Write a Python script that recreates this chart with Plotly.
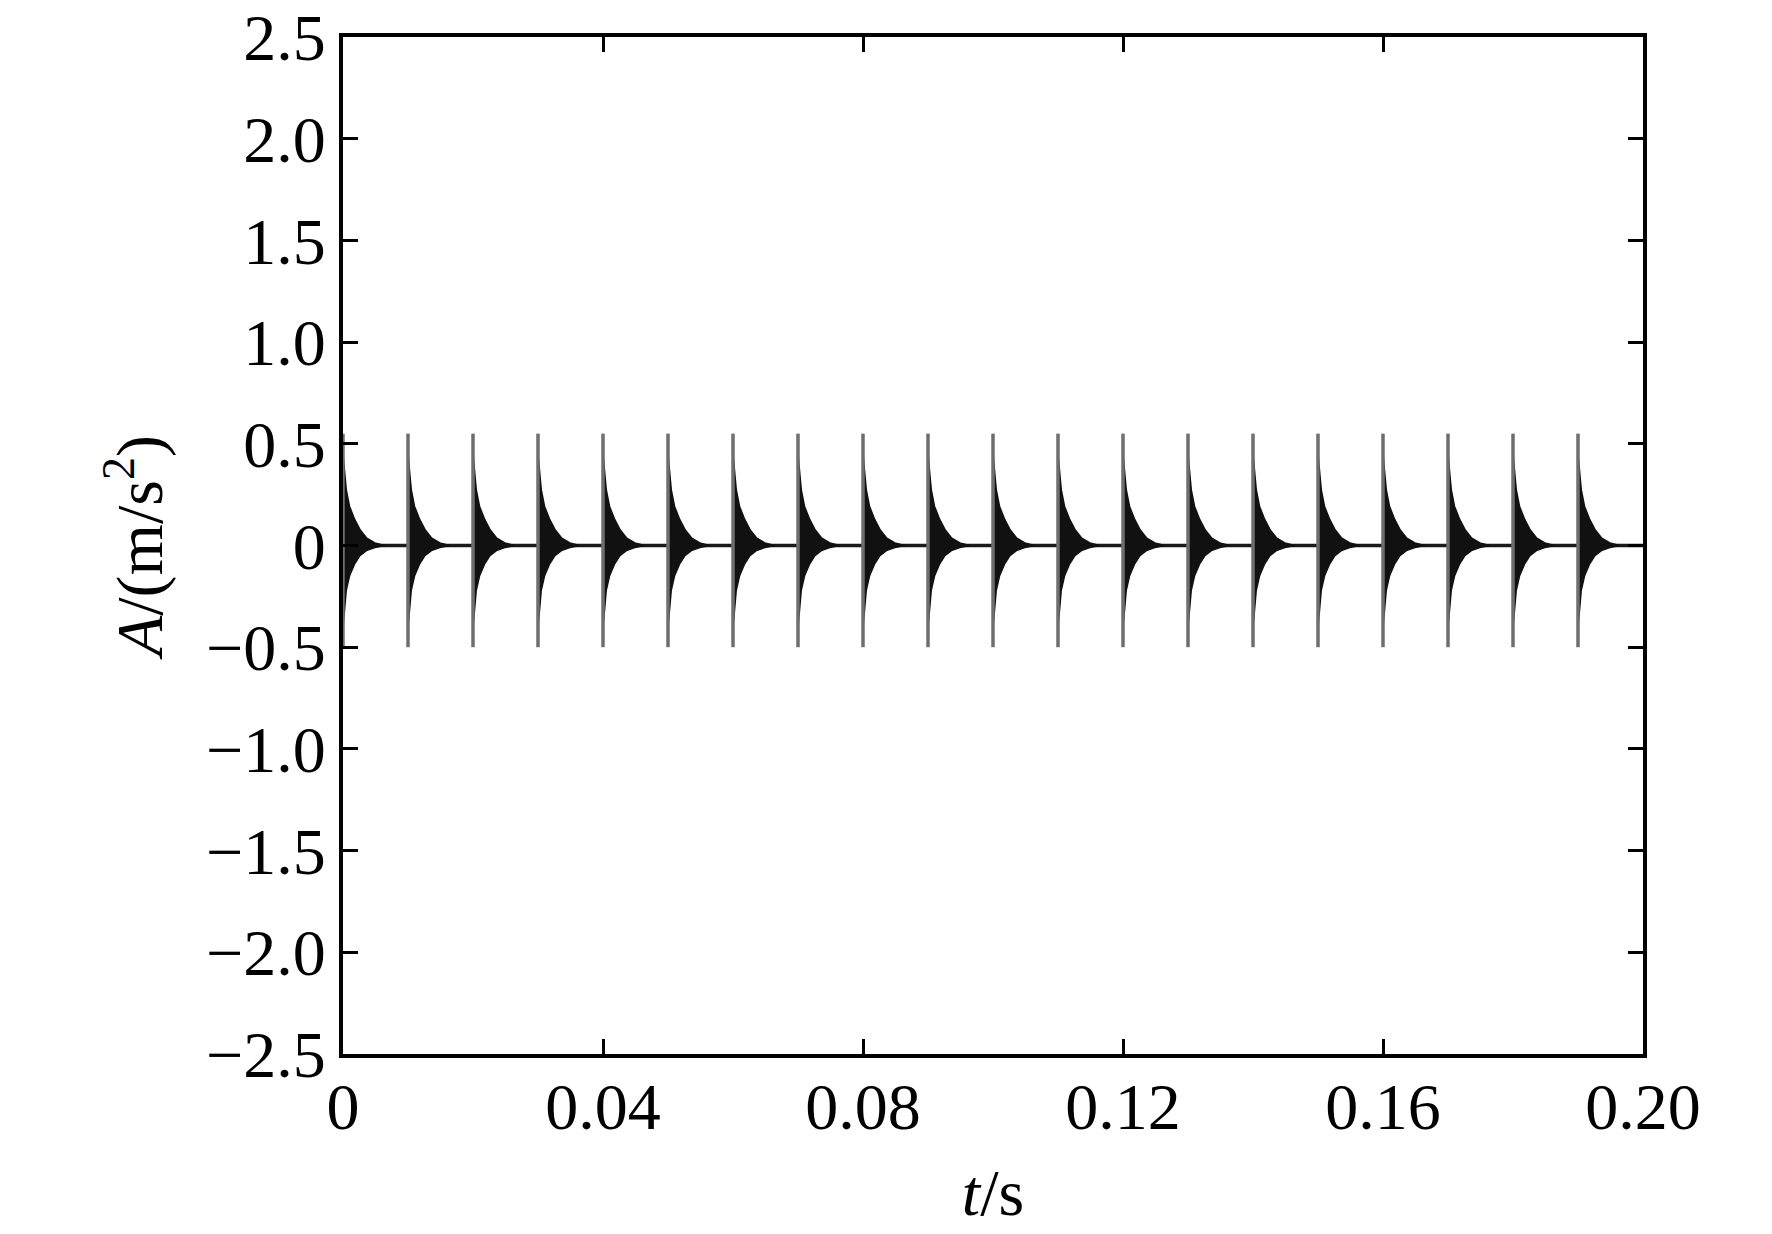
import plotly.graph_objects as go

# Impact pulse times (s), one every 0.01 s
pulse_times = [0.00, 0.01, 0.02, 0.03, 0.04, 0.05, 0.06, 0.07, 0.08, 0.09,
               0.10, 0.11, 0.12, 0.13, 0.14, 0.15, 0.16, 0.17, 0.18, 0.19]

# Peak of the initial spike of each pulse (m/s^2)
spike_top = [0.55] * 20
spike_bottom = [-0.50] * 20

env_offset = [0.0, 0.0002, 0.0005, 0.0010, 0.0018, 0.0026, 0.0036, 0.0049, 0.0064]
env_upper = [0.45, 0.38, 0.275, 0.193, 0.128, 0.079, 0.038, 0.013, 0.0]
env_lower = [-0.40, -0.33, -0.22, -0.15, -0.09, -0.05, -0.025, -0.01, 0.0]

# Time window / baseline
t_span = [0.0, 0.20]
baseline = [0.0, 0.0]

y_ticks = [-2.5, -2.0, -1.5, -1.0, -0.5, 0, 0.5, 1.0, 1.5, 2.0, 2.5]
y_labels = ["\u22122.5", "\u22122.0", "\u22121.5", "\u22121.0", "\u22120.5", "0",
            "0.5", "1.0", "1.5", "2.0", "2.5"]
x_ticks = [0, 0.04, 0.08, 0.12, 0.16, 0.20]
x_labels = ["0", "0.04", "0.08", "0.12", "0.16", "0.20"]

font_name = "Liberation Serif"
font_size = 66

fig = go.Figure()

# baseline between pulses
fig.add_trace(go.Scatter(
    x=t_span, y=baseline, mode='lines',
    line=dict(color='#1a1a1a', width=3.5),
    showlegend=False, hoverinfo='skip'
))

# filled envelope of every decaying oscillation
ex, ey = [], []
for t0 in pulse_times:
    ex += [t0 + d for d in env_offset] + [t0 + d for d in reversed(env_offset)] + [None]
    ey += env_upper + list(reversed(env_lower)) + [None]
fig.add_trace(go.Scatter(
    x=ex, y=ey, mode='lines', fill='toself',
    fillcolor='#111111', line=dict(color='#111111', width=1.5),
    showlegend=False, hoverinfo='skip'
))

# initial spikes
sx, sy = [], []
for t0, top, bot in zip(pulse_times, spike_top, spike_bottom):
    sx += [t0, t0, None]
    sy += [top, bot, None]
fig.add_trace(go.Scatter(
    x=sx, y=sy, mode='lines',
    line=dict(color='#6e6e6e', width=3.5),
    showlegend=False, hoverinfo='skip'
))

axis_style = dict(
    showline=True, linecolor='black', linewidth=4, mirror='ticks',
    ticks='inside', ticklen=15, tickwidth=3, tickcolor='black',
    showgrid=False, zeroline=False, ticklabeloverflow='allow', automargin=False,
    tickfont=dict(family=font_name, size=font_size, color='black'),
)

fig.update_xaxes(
    range=[0, 0.2], tickvals=x_ticks, ticktext=x_labels, ticklabelstandoff=-8,
    title=dict(text='<i>t</i>/s', font=dict(family=font_name, size=font_size, color='black'),
               standoff=28),
    **axis_style
)
fig.update_yaxes(
    range=[-2.5, 2.5], tickvals=y_ticks, ticktext=y_labels,
    title=dict(text='<i>A</i>/(m/s<sup>2</sup>)',
               font=dict(family=font_name, size=font_size, color='black'), standoff=23),
    **axis_style
)

fig.update_layout(
    width=1772, height=1234,
    margin=dict(l=335, r=137, t=29, b=188),
    plot_bgcolor='white', paper_bgcolor='white',
    showlegend=False
)

fig.write_html("out.html")
